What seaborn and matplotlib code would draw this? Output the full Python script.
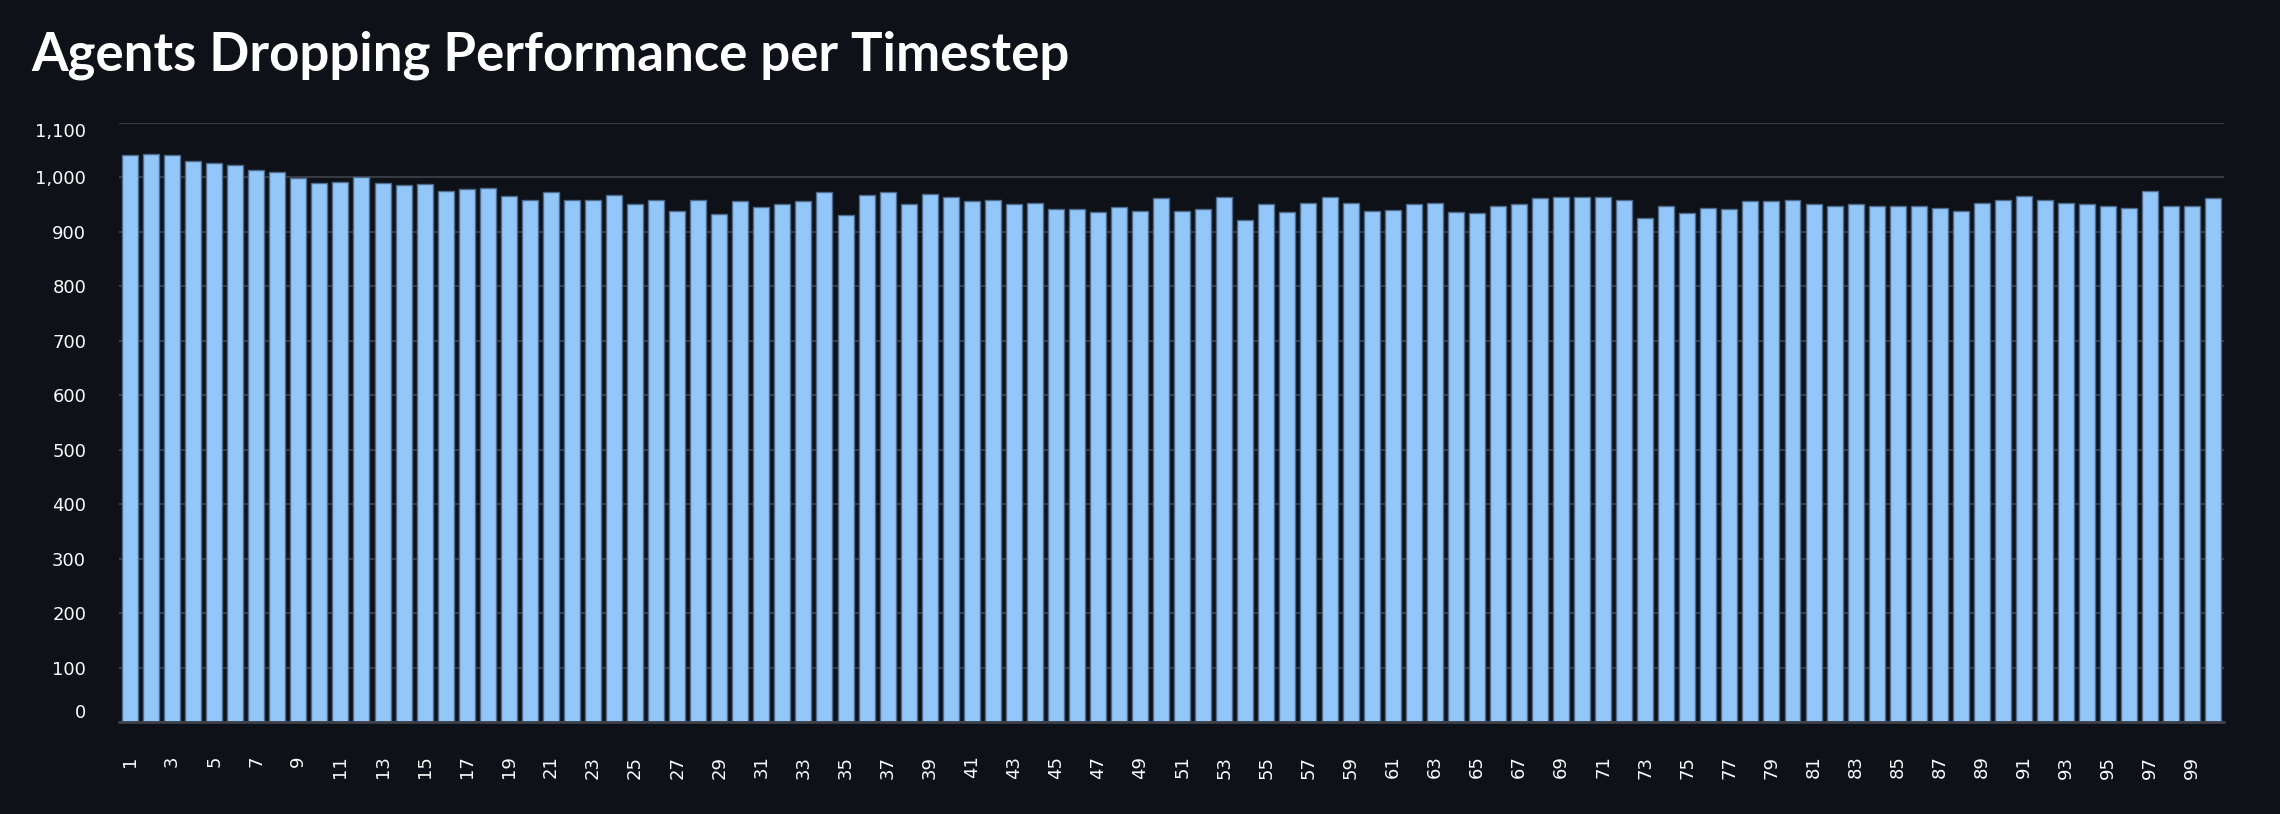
import matplotlib
matplotlib.use("Agg")
import matplotlib.pyplot as plt
from matplotlib.ticker import FuncFormatter
import pandas as pd
import seaborn as sns

timesteps = list(range(1, 101))
agents_dropping = [
    1040, 1042, 1040, 1029, 1026, 1023, 1014, 1009, 998, 990,
    992, 1001, 990, 985, 988, 974, 979, 981, 965, 959,
    973, 959, 959, 968, 950, 958, 938, 959, 932, 956,
    945, 950, 956, 972, 931, 967, 973, 950, 970, 964,
    956, 959, 950, 953, 942, 941, 937, 945, 938, 961,
    938, 942, 964, 921, 950, 937, 953, 964, 953, 938,
    940, 950, 953, 937, 935, 948, 950, 962, 964, 963,
    964, 958, 925, 947, 934, 944, 941, 956, 957, 959,
    950, 948, 950, 948, 947, 947, 944, 938, 953, 959,
    965, 959, 952, 950, 948, 944, 974, 948, 948, 962,
]
y_ticks = [0, 100, 200, 300, 400, 500, 600, 700, 800, 900, 1000, 1100]

bg = '#0e1117'
grid_col = '#373943'
text_col = '#fafafa'
bar_col = '#93c7f9'

df = pd.DataFrame({'timestep': [str(t) for t in timesteps], 'dropping': agents_dropping})

sns.set_theme(style='dark')
plt.rcParams['font.family'] = ['DejaVu Sans']

fig = plt.figure(figsize=(22.8, 8.14), dpi=100, facecolor=bg)
ax = fig.add_axes([0.0524, 0.1127, 0.9230, 0.7366])
ax.set_facecolor(bg)

sns.barplot(
    data=df,
    x='timestep',
    y='dropping',
    color=bar_col,
    saturation=1,
    width=0.76,
    edgecolor='#4d6b8c',
    linewidth=1,
    ax=ax,
    zorder=3
)

ax.set_xlim(-0.5, 99.5)
ax.set_ylim(0, 1100)
ax.set_yticks(y_ticks)
ax.yaxis.set_major_formatter(FuncFormatter(lambda v, p: f'{int(v):,}'))
ax.set_xticks(range(0, 100, 2))
ax.set_xticklabels([str(t) for t in timesteps[::2]], rotation=90)

ax.grid(axis='y', color=grid_col, linewidth=1.5, zorder=0)
ax.grid(axis='x', visible=False)
for side in ['top', 'right', 'left']:
    ax.spines[side].set_visible(False)
ax.spines['bottom'].set_color('#3d4048')
ax.spines['bottom'].set_linewidth(2)
ax.spines['bottom'].set_zorder(4)

ax.tick_params(axis='y', length=0, pad=24, labelsize=13, labelcolor=text_col)
ax.tick_params(axis='x', length=0, pad=24, labelsize=13, labelcolor=text_col)
ylabels = ax.get_yticklabels()
ylabels[0].set_va('bottom')
ylabels[-1].set_va('top')

ax.set_xlabel('')
ax.set_ylabel('')

fig.text(
    31 / 2280, 1 - 55 / 814,
    'Agents Dropping Performance per Timestep',
    color='white', fontsize=38, fontweight='bold',
    family=['Lato', 'DejaVu Sans'], va='center', ha='left'
)

fig.savefig('out.png', dpi=100, facecolor=bg)
